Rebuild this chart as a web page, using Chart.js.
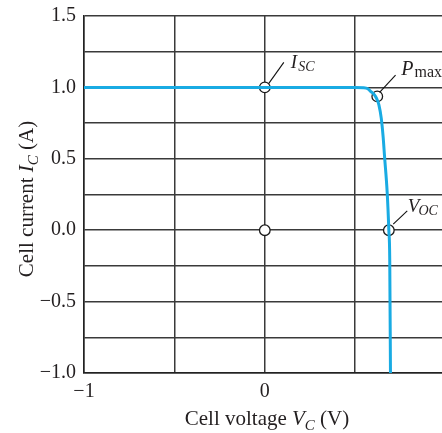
<!DOCTYPE html>
<html>
<head>
<meta charset="utf-8">
<script src="https://cdn.jsdelivr.net/npm/chart.js@4/dist/chart.umd.min.js"></script>
<style>
  html, body { margin: 0; padding: 0; background: #fff; }
  #wrap { width: 442px; height: 433px; position: relative; }
</style>
</head>
<body>
<div id="wrap"><canvas id="c" width="442" height="433"></canvas></div>
<script>
// Curve: cell voltage (V) vs cell current (A)
const curveV = [-1, 0.5, 0.546, 0.57, 0.585, 0.60, 0.612, 0.622, 0.631, 0.644, 0.655, 0.662, 0.677, 0.686, 0.691, 0.695];
const curveI = [1.0, 1.0, 0.998, 0.99, 0.972, 0.957, 0.937, 0.912, 0.878, 0.785, 0.645, 0.52, 0.26, 0.0, -0.21, -1.0];

// Marked points: I_SC, P_max, origin, V_OC
const markerNames = ['Isc', 'Pmax', 'origin', 'Voc'];
const markerV = [0, 0.622, 0, 0.686];
const markerI = [1.0, 0.937, 0.0, 0.0];

// Axis ranges / tick labels
const xRange = [-1, 0.98];
const yRange = [-1, 1.5];
const xLabelled = [-1, 0];
const yLabelled = [-1, -0.5, 0, 0.5, 1, 1.5];

const TEXT = '#231f20';
const GRID = '#3a3a3a';
const SERIF = '"Liberation Serif", "DejaVu Serif", serif';

function fmtY(v) {
  const s = v.toFixed(1);
  return v < 0 ? '\u2212' + s.slice(1) : s;
}
function fmtX(v) {
  const s = String(Math.round(v));
  return v < 0 ? '\u2212' + s.slice(1) : s;
}

// draw a sequence of styled text segments
function richText(ctx, segs, x, y, align) {
  let total = 0;
  const widths = segs.map(s => {
    ctx.font = (s.italic ? 'italic ' : '') + s.size + 'px ' + SERIF;
    const w = ctx.measureText(s.t).width + (s.dx || 0);
    total += w;
    return w;
  });
  let cx = align === 'center' ? x - total / 2 : x;
  segs.forEach((s, i) => {
    ctx.font = (s.italic ? 'italic ' : '') + s.size + 'px ' + SERIF;
    ctx.fillText(s.t, cx + (s.dx || 0), y + (s.dy || 0));
    cx += widths[i];
  });
}

const annot = {
  Isc:  { line: [4, -4, 19, -25], tx: 26, ty: -19,
          segs: [{t: 'I', italic: true, size: 19}, {t: 'SC', italic: true, size: 14, dy: 3, dx: 1}] },
  Pmax: { line: [2.3, -4, 18.3, -21.3], tx: 24, ty: -21,
          segs: [{t: 'P', italic: true, size: 20}, {t: 'max', italic: false, size: 16, dy: 2, dx: 1}] },
  Voc:  { line: [4.4, -6, 18.4, -19.3], tx: 19, ty: -18,
          segs: [{t: 'V', italic: true, size: 19}, {t: 'OC', italic: true, size: 14, dy: 3, dx: -1}] }
};

const textPlugin = {
  id: 'textPlugin',
  afterDatasetsDraw(chart) {
    const ctx = chart.ctx;
    const xs = chart.scales.x, ys = chart.scales.y;
    ctx.save();
    ctx.fillStyle = TEXT;
    ctx.strokeStyle = '#111';
    ctx.lineWidth = 1.1;
    ctx.textBaseline = 'alphabetic';
    ctx.textAlign = 'left';
    markerNames.forEach((n, i) => {
      const a = annot[n];
      if (!a) return;
      const px = xs.getPixelForValue(markerV[i]);
      const py = ys.getPixelForValue(markerI[i]);
      ctx.beginPath();
      ctx.moveTo(px + a.line[0], py + a.line[1]);
      ctx.lineTo(px + a.line[2], py + a.line[3]);
      ctx.stroke();
      richText(ctx, a.segs, px + a.tx, py + a.ty, 'left');
    });
    // x axis title
    richText(ctx, [
      {t: 'Cell voltage ', size: 21},
      {t: 'V', italic: true, size: 21},
      {t: 'C', italic: true, size: 15, dy: 5},
      {t: ' (V)', size: 21}
    ], 267, 425, 'center');
    // y axis title
    ctx.translate(33, 199);
    ctx.rotate(-Math.PI / 2);
    richText(ctx, [
      {t: 'Cell current ', size: 21},
      {t: 'I', italic: true, size: 21},
      {t: 'C', italic: true, size: 15, dy: 5},
      {t: ' (A)', size: 21}
    ], 0, 0, 'center');
    ctx.restore();
  }
};

new Chart(document.getElementById('c'), {
  type: 'scatter',
  data: {
    datasets: [
      {
        label: 'I-V curve',
        data: curveV.map((v, i) => ({x: v, y: curveI[i]})),
        showLine: true,
        borderColor: '#19abe3',
        borderWidth: 3,
        pointRadius: 0,
        cubicInterpolationMode: 'monotone',
        fill: false
      },
      {
        label: 'markers',
        data: markerV.map((v, i) => ({x: v, y: markerI[i]})),
        showLine: false,
        pointRadius: 5.3,
        pointBackgroundColor: '#ffffff',
        pointBorderColor: '#1a1a1a',
        pointBorderWidth: 1.3
      }
    ]
  },
  options: {
    responsive: false,
    animation: false,
    events: [],
    layout: { autoPadding: false, padding: { top: 16, right: 0, left: 0, bottom: 0 } },
    plugins: { legend: { display: false }, tooltip: { enabled: false } },
    scales: {
      x: {
        type: 'linear',
        min: xRange[0], max: xRange[1],
        afterBuildTicks(scale) {
          scale.ticks = [-1, -0.5, 0, 0.5].map(v => ({value: v}));
        },
        afterFit(scale) { scale.height = 60; scale.paddingRight = 0; scale.paddingLeft = 0; },
        grid: { color: GRID, lineWidth: 1.5, drawTicks: false },
        border: { color: '#222', width: 1.5 },
        ticks: {
          padding: 7,
          maxRotation: 0,
          autoSkip: false,
          color: TEXT,
          font: { family: SERIF, size: 20 },
          callback: v => xLabelled.some(t => Math.abs(t - v) < 1e-6) ? fmtX(v) : ''
        }
      },
      y: {
        type: 'linear',
        min: yRange[0], max: yRange[1],
        afterBuildTicks(scale) {
          const t = [];
          for (let k = 0; k <= 10; k++) t.push({value: yRange[0] + k * 0.25});
          scale.ticks = t;
        },
        afterFit(scale) { scale.width = 84; scale.paddingTop = 0; scale.paddingBottom = 0; },
        grid: { color: GRID, lineWidth: 1.5, drawTicks: false },
        border: { color: '#222', width: 1.5 },
        ticks: {
          padding: 8,
          autoSkip: false,
          color: TEXT,
          font: { family: SERIF, size: 20 },
          callback: v => yLabelled.some(t => Math.abs(t - v) < 1e-6) ? fmtY(v) : ''
        }
      }
    }
  },
  plugins: [textPlugin]
});
</script>
</body>
</html>
